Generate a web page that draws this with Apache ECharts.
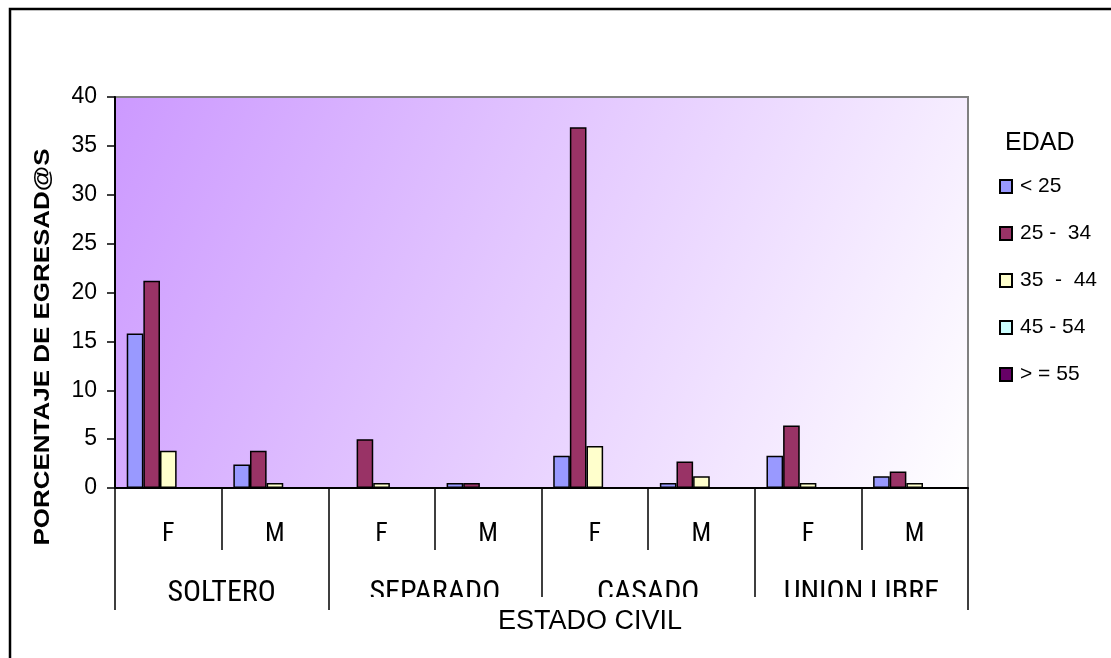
<!DOCTYPE html>
<html>
<head>
<meta charset="utf-8">
<script src="https://cdn.jsdelivr.net/npm/echarts@6/dist/echarts.min.js"></script>
<style>
html,body{margin:0;padding:0;background:#fff;}
#c{width:1111px;height:658px;}
</style>
</head>
<body>
<div id="c"></div>
<script>
const categories = ['F', 'M', 'F', 'M', 'F', 'M', 'F', 'M'];
const groups = ['SOLTERO', 'SEPARADO', 'CASADO', 'UNION LIBRE'];
const seriesNames = ['< 25', '25 -  34', '35  -  44', '45 - 54', '> = 55'];
const ageLt25 = [15.8, 2.4, 0, 0.5, 3.3, 0.5, 3.3, 1.2];
const age25to34 = [21.2, 3.8, 5.0, 0.5, 36.9, 2.7, 6.4, 1.7];
const age35to44 = [3.8, 0.5, 0.5, 0, 4.3, 1.2, 0.5, 0.5];
const age45to54 = [0, 0, 0, 0, 0, 0, 0, 0];
const ageGe55 = [0, 0, 0, 0, 0, 0, 0, 0];
const yMin = 0, yMax = 40, yStep = 5;

const seriesValues = [ageLt25, age25to34, age35to44, age45to54, ageGe55];
const colors = ['#9999FF', '#993366', '#FFFFCC', '#CCFFFF', '#660066'];
const FONT = "'Liberation Sans', Arial, sans-serif";
const NARROW = "'Roboto Condensed', 'DejaVu Sans Condensed', 'Liberation Sans', sans-serif";

const chart = echarts.init(document.getElementById('c'), null, {renderer: 'canvas'});
chart.setOption({
  animation: false,
  backgroundColor: '#fff',
  grid: {
    left: 115, right: 143, top: 97, bottom: 170,
    show: true,
    borderColor: '#808080', borderWidth: 2,
    backgroundColor: new echarts.graphic.LinearGradient(0, 0, 1, 1, [
      {offset: 0, color: '#CC99FF'},
      {offset: 1, color: '#FFFFFF'}
    ])
  },
  legend: {
    orient: 'vertical', left: 999, top: 176, padding: 0,
    itemWidth: 12, itemHeight: 13, itemGap: 26,
    icon: 'rect', selectedMode: false,
    data: seriesNames,
    textStyle: {fontSize: 21, color: '#000', fontFamily: FONT, padding: [0, 0, 0, 3]}
  },
  xAxis: [
    {
      type: 'category', data: categories, position: 'bottom',
      axisLine: {show: true, lineStyle: {color: '#000', width: 2}},
      axisTick: {show: true, interval: 0, length: 62, lineStyle: {color: '#000', width: 1.5}},
      axisLabel: {interval: 0, margin: 33, fontSize: 26, color: '#000', fontFamily: NARROW},
      splitLine: {show: false}
    },
    {
      type: 'category', data: groups, position: 'bottom',
      axisLine: {show: false},
      axisTick: {show: true, interval: 0, length: 122, lineStyle: {color: '#000', width: 1.5}},
      axisLabel: {interval: 0, margin: 90, fontSize: 30, color: '#000', fontFamily: NARROW},
      splitLine: {show: false}
    }
  ],
  yAxis: {
    type: 'value', min: yMin, max: yMax, interval: yStep,
    axisLine: {show: true, lineStyle: {color: '#000', width: 2}},
    axisTick: {show: true, length: 8, lineStyle: {color: '#000', width: 1.5}},
    axisLabel: {fontSize: 23, color: '#000', fontFamily: FONT, margin: 18},
    splitLine: {show: false}
  },
  series: seriesNames.map((name, i) => ({
    name: name, type: 'bar', xAxisIndex: 0,
    data: seriesValues[i],
    barGap: '0%', barCategoryGap: '22%',
    itemStyle: {color: colors[i], borderColor: '#000', borderWidth: 1.5}
  })),
  graphic: [
    {type: 'rect', z: 100, silent: true,
     shape: {x: 10, y: 9, width: 1400, height: 900},
     style: {fill: 'none', stroke: '#000', lineWidth: 2.5}},
    {type: 'rect', z: 100, silent: true,
     shape: {x: 331, y: 597, width: 635, height: 46},
     style: {fill: '#fff'}},
    {type: 'text', z: 101, x: 590, y: 622, silent: true,
     style: {text: 'ESTADO CIVIL', x: 0, y: 0, fill: '#000', font: '27px ' + FONT,
             textAlign: 'center', textVerticalAlign: 'middle', verticalAlign: 'middle'}},
    {type: 'text', z: 101, x: 43, y: 347, rotation: Math.PI / 2, scaleX: 1.18, silent: true,
     style: {text: 'PORCENTAJE DE EGRESAD@S', x: 0, y: 0, fill: '#000', font: 'bold 22px ' + FONT,
             textAlign: 'center', textVerticalAlign: 'middle', verticalAlign: 'middle'}},
    {type: 'text', z: 101, x: 1005, y: 143, silent: true,
     style: {text: 'EDAD', x: 0, y: 0, fill: '#000', font: '25px ' + FONT,
             textAlign: 'left', textVerticalAlign: 'middle', verticalAlign: 'middle'}}
  ]
});
</script>
</body>
</html>
